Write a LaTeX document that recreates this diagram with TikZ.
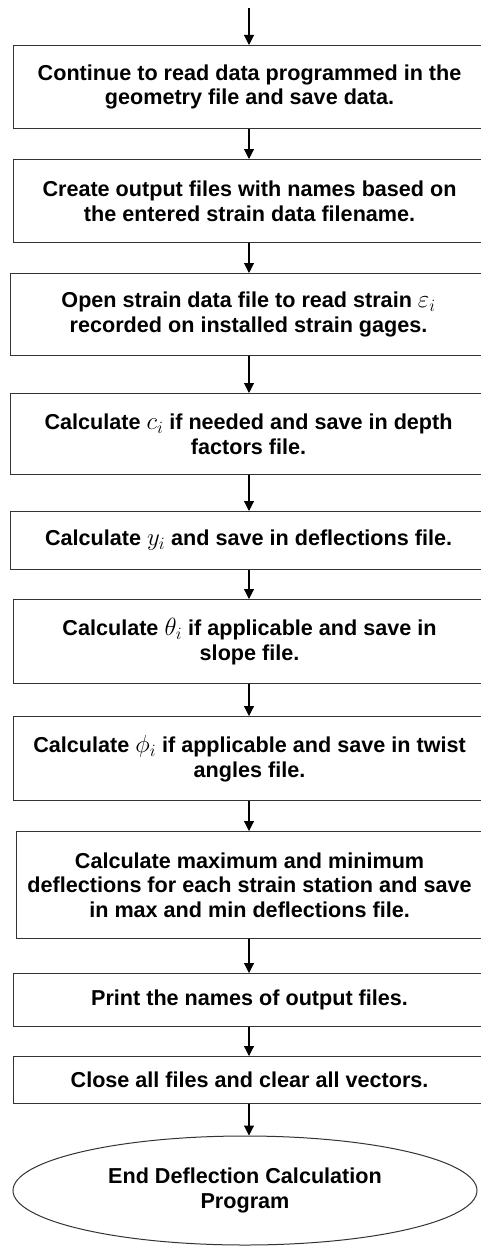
\documentclass[tikz,border=0pt]{standalone}
\usepackage{fontspec}
\setmainfont{Liberation Sans}
\usetikzlibrary{arrows.meta,shapes.geometric}
\newcommand\mthsym[1]{{\fontsize{27}{24.5}\selectfont$#1$}}
\tikzset{
  box/.style={draw=black!80, line width=1.1pt, anchor=north west, inner sep=0pt,
    font=\fontsize{21.6}{24.5}\selectfont\bfseries, align=center},
  endell/.style={ellipse, draw=black!80, line width=1pt, inner sep=0pt,
    minimum width=464pt, minimum height=109pt,
    font=\fontsize{21.6}{24.5}\selectfont\bfseries, align=center},
  arr/.style={draw=black, line width=1.1pt, -{Triangle[length=10pt,width=10pt]}}
}
\begin{document}
\begin{tikzpicture}[x=1pt,y=-1pt]
\useasboundingbox (0,0) rectangle (480,1247);
\coordinate (ax) at (249,0);
\coordinate (start) at (249,8);
\node[box, minimum width=472pt, minimum height=83pt] (b1) at (13,45)
  {Continue to read data programmed in the\\geometry file and save data.};
\node[box, minimum width=472pt, minimum height=83pt] (b2) at (13,159)
  {Create output files with names based on\\the entered strain data filename.};
\node[box, minimum width=476pt, minimum height=82pt] (b3) at (10,273)
  {Open strain data file to read strain \mthsym{\varepsilon_i}\\recorded on installed strain gages.};
\node[box, minimum width=476pt, minimum height=81pt] (b4) at (10,393)
  {Calculate \mthsym{c_i} if needed and save in depth\\factors file.};
\node[box, minimum width=476pt, minimum height=58pt] (b5) at (10,511)
  {Calculate \mthsym{y_i} and save in deflections file.};
\node[box, minimum width=472pt, minimum height=84pt] (b6) at (13,599)
  {Calculate \mthsym{\theta_i} if applicable and save in\\slope file.};
\node[box, minimum width=472pt, minimum height=84pt] (b7) at (13,716)
  {Calculate \mthsym{\phi_i} if applicable and save in twist\\angles file.};
\node[box, minimum width=466pt, minimum height=107pt] (b8) at (16,831)
  {Calculate maximum and minimum\\deflections for each strain station and save\\in max and min deflections file.};
\node[box, minimum width=472pt, minimum height=53pt] (b9) at (13,973)
  {Print the names of output files.};
\node[box, minimum width=472pt, minimum height=47pt] (b10) at (13,1056)
  {Close all files and clear all vectors.};
\node[endell] (e) at (245,1190.5) {End Deflection Calculation\\Program};
\draw[arr] (start) -- (b1.north -| ax);
\draw[arr] (b1.south -| ax) -- (b2.north -| ax);
\draw[arr] (b2.south -| ax) -- (b3.north -| ax);
\draw[arr] (b3.south -| ax) -- (b4.north -| ax);
\draw[arr] (b4.south -| ax) -- (b5.north -| ax);
\draw[arr] (b5.south -| ax) -- (b6.north -| ax);
\draw[arr] (b6.south -| ax) -- (b7.north -| ax);
\draw[arr] (b7.south -| ax) -- (b8.north -| ax);
\draw[arr] (b8.south -| ax) -- (b9.north -| ax);
\draw[arr] (b9.south -| ax) -- (b10.north -| ax);
\draw[arr] (b10.south -| ax) -- (e.north -| ax);
\end{tikzpicture}
\end{document}
